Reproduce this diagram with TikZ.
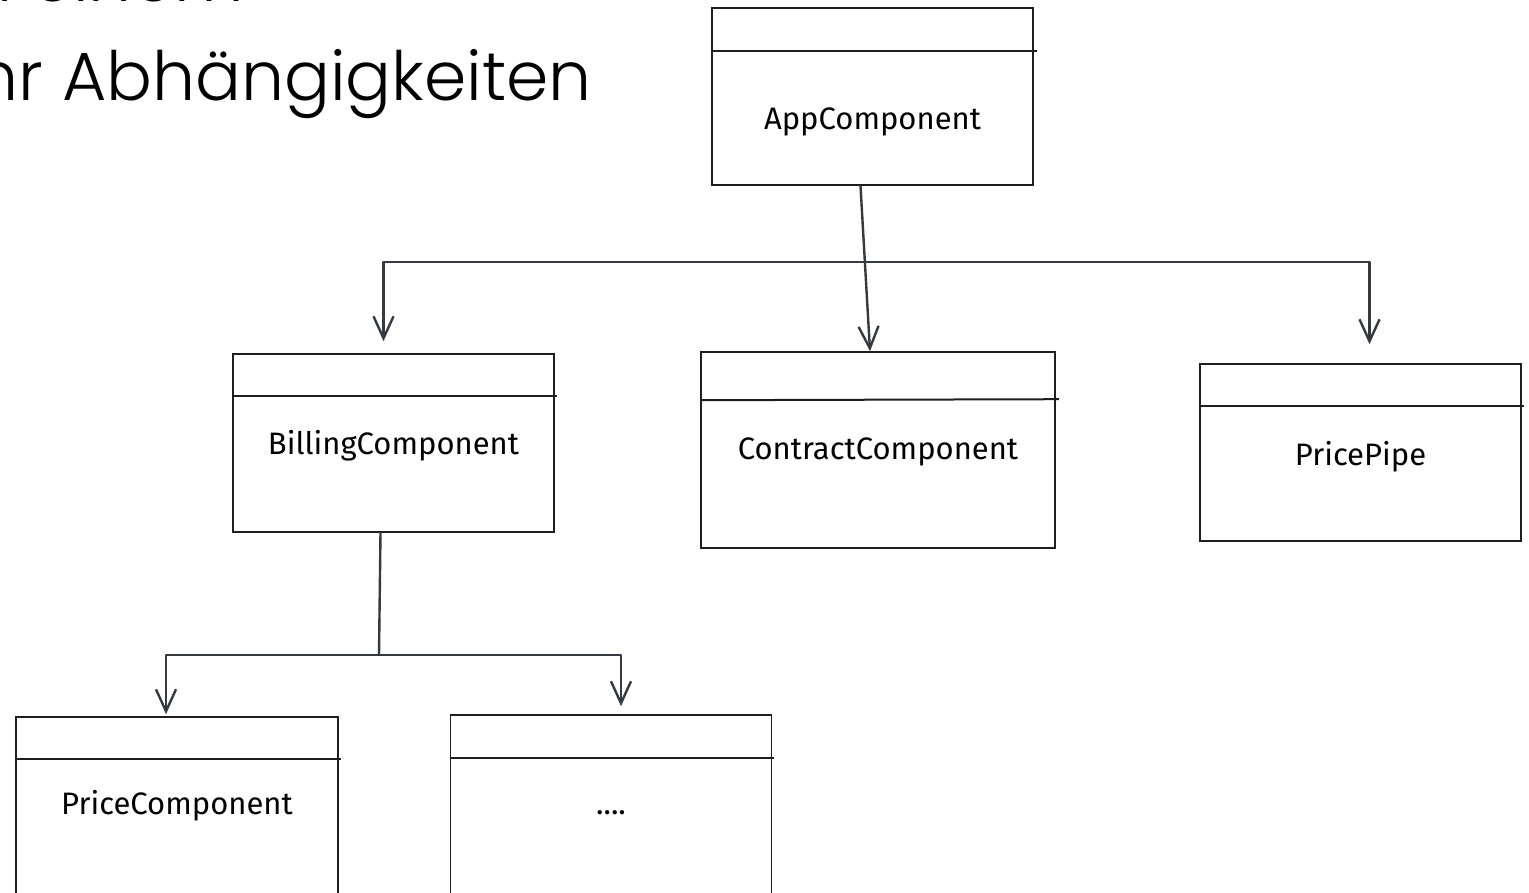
\documentclass[tikz,border=0pt]{standalone}
\usepackage{fontspec}
\usetikzlibrary{arrows.meta,positioning}
\newfontfamily\headfont{Poppins Light}
\newfontfamily\labelfont{Fira Sans}
\definecolor{boxline}{HTML}{1E1E1E}
\definecolor{connline}{HTML}{343A40}
\tikzset{
  compbox/.style={draw=boxline, line width=1.6pt, minimum width=321pt, minimum height=177pt, inner sep=0pt},
  divline/.style={draw=boxline, line width=2pt},
  conn/.style={draw=connline, line width=2.4pt, line cap=round, line join=round},
  tip/.style={-{Straight Barb[length=22pt,width=20pt]}},
  lbl/.style={font=\fontsize{31}{37}\selectfont\labelfont, text=black, inner sep=0pt},
  head/.style={font=\fontsize{68}{80}\selectfont\headfont, inner sep=0pt}
}
\begin{document}
\begin{tikzpicture}[x=1pt,y=-1pt]
\useasboundingbox (0,0) rectangle (1529,892);
\fill[white] (0,0) rectangle (1529,892);
\clip (0,0) rectangle (1529,892);

% heading, cut off at the page edge
\node[head, anchor=base east] (line1) at (244,1) {in einem};
\node[head, anchor=base east] (line2) at (592,100) {mehr Abhängigkeiten};

% components
\node[compbox] (app) at (872.5,96.5) {};
\node[compbox, minimum height=178pt] (billing) at (393.5,443) {};
\node[compbox, minimum width=354pt, minimum height=196pt] (contract) at (878,450) {};
\node[compbox] (pipe) at (1360.5,452.5) {};
\node[compbox, minimum width=322pt, minimum height=190pt] (price) at (177,812) {};
\node[compbox, minimum height=190pt] (more) at (611,810) {};

\draw[divline] ([yshift=-44pt]app.north west) -- ([yshift=-44pt,xshift=3pt]app.north east);
\draw[divline] ([yshift=-43pt]billing.north west) -- ([yshift=-43pt,xshift=2pt]billing.north east);
\draw[divline] ([yshift=-49pt]contract.north west) -- ([yshift=-48pt,xshift=3pt]contract.north east);
\draw[divline] ([yshift=-43pt]pipe.north west) -- ([yshift=-43pt,xshift=2pt]pipe.north east);
\draw[divline] ([yshift=-43pt]price.north west) -- ([yshift=-43pt,xshift=2pt]price.north east);
\draw[divline] ([yshift=-44pt]more.north west) -- ([yshift=-44pt,xshift=2pt]more.north east);

\node[lbl, anchor=base] (applbl) at ([yshift=-122pt]app.north) {AppComponent};
\node[lbl, anchor=base] (billinglbl) at ([yshift=-101pt]billing.north) {BillingComponent};
\node[lbl, anchor=base] (contractlbl) at ([yshift=-108pt]contract.north) {ContractComponent};
\node[lbl, anchor=base] (pipelbl) at ([yshift=-102pt]pipe.north) {PricePipe};
\node[lbl, anchor=base] (pricelbl) at ([yshift=-98pt]price.north) {PriceComponent};
\node[lbl, anchor=base] (morelbl) at ([yshift=-100pt]more.north) {....};

% dependencies
\coordinate (hub) at (862,262);
\coordinate (hubb) at (379,655);
\draw[conn,tip] ([xshift=-12pt]app.south) -- ([xshift=-8pt]contract.north);
\draw[conn,tip,shorten >=12pt] (hub) -| ([xshift=-10pt]billing.north);
\draw[conn,tip,shorten >=19pt] (hub) -| ([xshift=9pt]pipe.north);
\draw[conn] ([xshift=-13pt]billing.south) -- (hubb);
\draw[conn,tip,shorten >=2pt] (hubb) -| ([xshift=-11pt]price.north);
\draw[conn,tip,shorten >=8pt] (hubb) -| ([xshift=10pt]more.north);
\end{tikzpicture}
\end{document}
